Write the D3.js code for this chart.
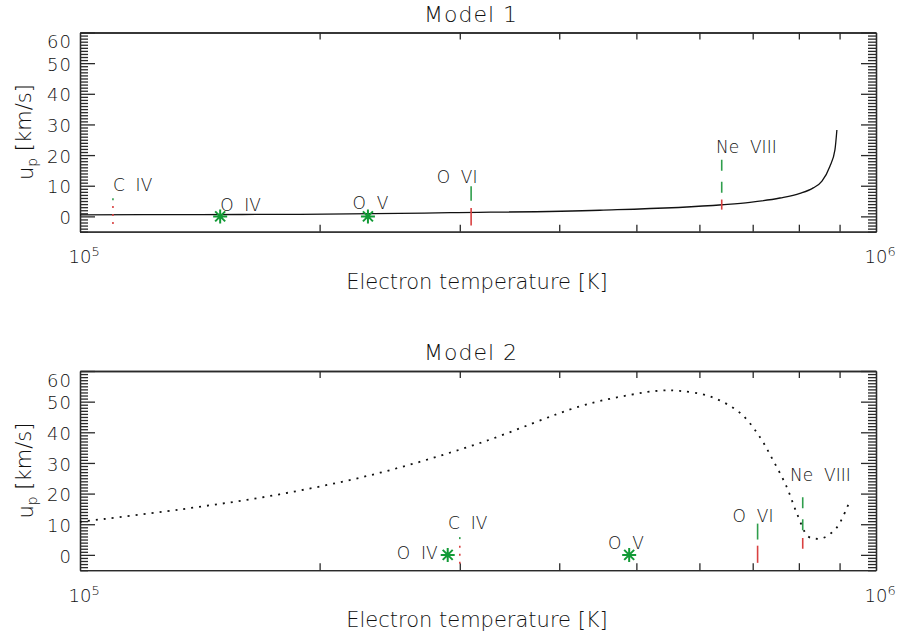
<!DOCTYPE html>
<html>
<head>
<meta charset="utf-8">
<script src="https://cdn.jsdelivr.net/npm/d3@7"></script>
<style>
  body { margin: 0; background: #fff; }
  text { font-family: "DejaVu Sans", sans-serif; font-weight: 200; fill: #111; white-space: pre; }
</style>
</head>
<body>
<svg id="chart" width="897" height="639"></svg>
<script>
// ---- data ----
const yMajorTicks = [0, 10, 20, 30, 40, 50, 60];
const xLabelTicks = [1e5, 1e6];
const xMinorTicks = [2e5, 3e5, 4e5, 5e5, 6e5, 7e5, 8e5, 9e5];

// Model 1 : proton velocity vs temperature (solid)
const m1Temp = [1.0e5, 1.415e5, 1.89e5, 2.92e5, 4.5e5, 6.41e5, 6.945e5, 7.575e5, 8.025e5, 8.34e5, 8.553e5, 8.75e5, 8.88e5, 8.93e5];
const m1Vel  = [0.5, 0.6, 0.65, 1.2, 2.0, 3.8, 4.6, 6.0, 7.5, 9.3, 11.5, 16.3, 21.7, 28.2];

// Model 2 : (dotted)
const m2Temp = [1.0e5, 1.335e5, 1.784e5, 2.382e5, 3.18e5, 4.25e5, 4.91e5, 5.354e5, 5.67e5, 6.19e5, 6.75e5, 7.14e5, 7.42e5, 7.72e5, 7.95e5, 8.21e5, 8.38e5, 8.58e5, 8.92e5, 9.23e5];
const m2Vel  = [10.8, 14.8, 19.8, 26.8, 36.5, 48.5, 52.2, 53.6, 53.5, 51.7, 46.3, 38.6, 31, 22.3, 13.7, 6.1, 5.3, 5.5, 8.8, 16.4];

// ion markers: temperature, green range, red range (km/s)
const ions1 = [
  {ion: "C IV",    temp: 1.10e5, green: [4.3, 5.9],  red: [-3.2, 3.4]},
  {ion: "O VI",    temp: 3.10e5, green: [5.1, 9.8],  red: [-3.0, 2.7]},
  {ion: "Ne VIII", temp: 6.40e5, green: [7.5, 18.5], red: [2.2, 5.5]}
];
const ions2 = [
  {ion: "C IV",    temp: 3.00e5, green: [3.3, 5.8],  red: [-3.8, 3.0]},
  {ion: "O VI",    temp: 7.10e5, green: [5.0, 10.2], red: [-2.6, 3.0]},
  {ion: "Ne VIII", temp: 8.09e5, green: [7.7, 18.8], red: [2.0, 5.5]}
];

// asterisks (O IV, O V)
const stars1 = [{temp: 1.50e5, vel: 0}, {temp: 2.30e5, vel: 0}];
const stars2 = [{temp: 2.897e5, vel: 0}, {temp: 4.897e5, vel: 0}];

// ion labels [text, temperature of left edge, velocity of centre]
const labels1 = [["C  IV", 1.10e5, 10.3], ["O  IV", 1.50e5, 3.8], ["O  V", 2.20e5, 4.4],
                 ["O  VI", 2.806e5, 13], ["Ne  VIII", 6.295e5, 22.8]];
const labels2 = [["O  IV", 2.50e5, 0.75], ["C  IV", 2.90e5, 10.5], ["O  V", 4.606e5, 4],
                 ["O  VI", 6.605e5, 12.8], ["Ne  VIII", 7.80e5, 26.2]];

// ---- styles ----
const ionDash = {"C IV": "2,6", "O VI": null, "Ne VIII": "11,11"};
const green = "#2f9e4c", red = "#d94141", starGreen = "#129a36";

const svg = d3.select("#chart");
const left = 80, right = 876;

function drawPanel(cfg) {
  const x = d3.scaleLog().domain([1e5, 1e6]).range([left, right]);
  const y = d3.scaleLinear().domain([-5, 60]).range([cfg.bottom, cfg.top]);
  const g = svg.append("g");

  const yMinor = d3.range(-5, 61).filter(v => v % 10 !== 0);

  // axes, ticks drawn inward
  g.append("g").attr("transform", `translate(${left},0)`)
    .call(d3.axisLeft(y).tickValues(yMinor).tickSize(-8).tickSizeOuter(0).tickFormat(""));
  const yl = g.append("g").attr("transform", `translate(${left},0)`)
    .call(d3.axisLeft(y).tickValues(yMajorTicks).tickSize(-15).tickSizeOuter(0).tickPadding(8));
  yl.selectAll(".tick text").style("font-size", "18px").style("letter-spacing", "1px")
    .attr("dy", d => y(d) - cfg.top < 8 ? "0.85em" : "0.4em");
  g.append("g").attr("transform", `translate(${right},0)`)
    .call(d3.axisRight(y).tickValues(yMinor).tickSize(-8).tickSizeOuter(0).tickFormat(""));
  g.append("g").attr("transform", `translate(${right},0)`)
    .call(d3.axisRight(y).tickValues(yMajorTicks).tickSize(-15).tickSizeOuter(0).tickFormat(""));

  const xb = g.append("g").attr("transform", `translate(0,${cfg.bottom})`)
    .call(d3.axisBottom(x).tickValues(xLabelTicks).tickSize(0).tickSizeOuter(0).tickPadding(19));
  xb.selectAll(".tick text").text(null).style("font-size", "18px").each(function(d) {
    const t = d3.select(this);
    t.append("tspan").text("10");
    t.append("tspan").attr("dy", "-0.55em").style("font-size", "13px").text(Math.round(Math.log10(d)));
  }).attr("dx", "0.2em");
  g.append("g").attr("transform", `translate(0,${cfg.bottom})`)
    .call(d3.axisBottom(x).tickValues(xMinorTicks).tickSize(-7).tickSizeOuter(0).tickFormat(""));
  g.append("g").attr("transform", `translate(0,${cfg.top})`)
    .call(d3.axisTop(x).tickValues(xMinorTicks).tickSize(-7).tickSizeOuter(0).tickFormat(""));
  g.append("g").attr("transform", `translate(0,${cfg.top})`)
    .call(d3.axisTop(x).tickValues(xLabelTicks).tickSize(0).tickSizeOuter(0).tickFormat(""));

  g.selectAll(".domain, .tick line").attr("stroke", "#2a2a2a").attr("stroke-width", 1.3);
  g.selectAll(".tick text").attr("fill", "#111")
    .style("font-family", "DejaVu Sans").style("font-weight", "200");

  // curve
  const pts = cfg.temp.map((t, i) => [t, cfg.vel[i]]);
  g.append("path").datum(pts)
    .attr("fill", "none").attr("stroke", "#111").attr("stroke-width", cfg.dotted ? 1.8 : 1.3)
    .attr("stroke-dasharray", cfg.dotted ? "2,6" : null)
    .attr("d", d3.line().x(d => x(d[0])).y(d => y(d[1]))
      .curve(cfg.dotted ? d3.curveCatmullRom.alpha(0.5) : d3.curveMonotoneX));

  // ion markers
  cfg.ions.forEach(d => {
    [[d.green, green], [d.red, red]].forEach(([r, c]) => {
      g.append("line")
        .attr("x1", x(d.temp)).attr("x2", x(d.temp))
        .attr("y1", y(r[1])).attr("y2", y(r[0]))
        .attr("stroke", c).attr("stroke-width", 1.6)
        .attr("stroke-dasharray", ionDash[d.ion]);
    });
  });

  // asterisks
  const ast = "M-7,0H7M0,-7V7M-5,-5L5,5M-5,5L5,-5";
  g.selectAll(".star").data(cfg.stars).join("path")
    .attr("transform", d => `translate(${x(d.temp)},${y(d.vel)})`)
    .attr("d", ast).attr("stroke", starGreen).attr("stroke-width", 2).attr("fill", "none");

  // labels
  g.selectAll(".ionlab").data(cfg.labels).join("text")
    .attr("x", d => x(d[1])).attr("y", d => y(d[2])).attr("dy", "0.36em")
    .style("font-size", "17px").text(d => d[0]);

  // titles
  g.append("text").attr("x", 471).attr("y", cfg.top - 11)
    .attr("text-anchor", "middle").style("font-size", "22px").style("letter-spacing", "1px").text(cfg.title);
  g.append("text").attr("x", 477).attr("y", cfg.bottom + 57)
    .attr("text-anchor", "middle").style("font-size", "21px").text("Electron temperature [K]");
  const yt = g.append("text")
    .attr("transform", `translate(33,${(cfg.top + cfg.bottom) / 2}) rotate(-90)`)
    .attr("text-anchor", "middle").style("font-size", "21px");
  yt.append("tspan").text("u");
  yt.append("tspan").attr("dy", "0.3em").style("font-size", "14px").text("p");
  yt.append("tspan").attr("dy", "-0.3em").text(" [km/s]");
}

drawPanel({title: "Model 1", top: 32.5, bottom: 231.7, temp: m1Temp, vel: m1Vel, dotted: false,
           ions: ions1, stars: stars1, labels: labels1});
drawPanel({title: "Model 2", top: 371, bottom: 570.2, temp: m2Temp, vel: m2Vel, dotted: true,
           ions: ions2, stars: stars2, labels: labels2});
</script>
</body>
</html>
